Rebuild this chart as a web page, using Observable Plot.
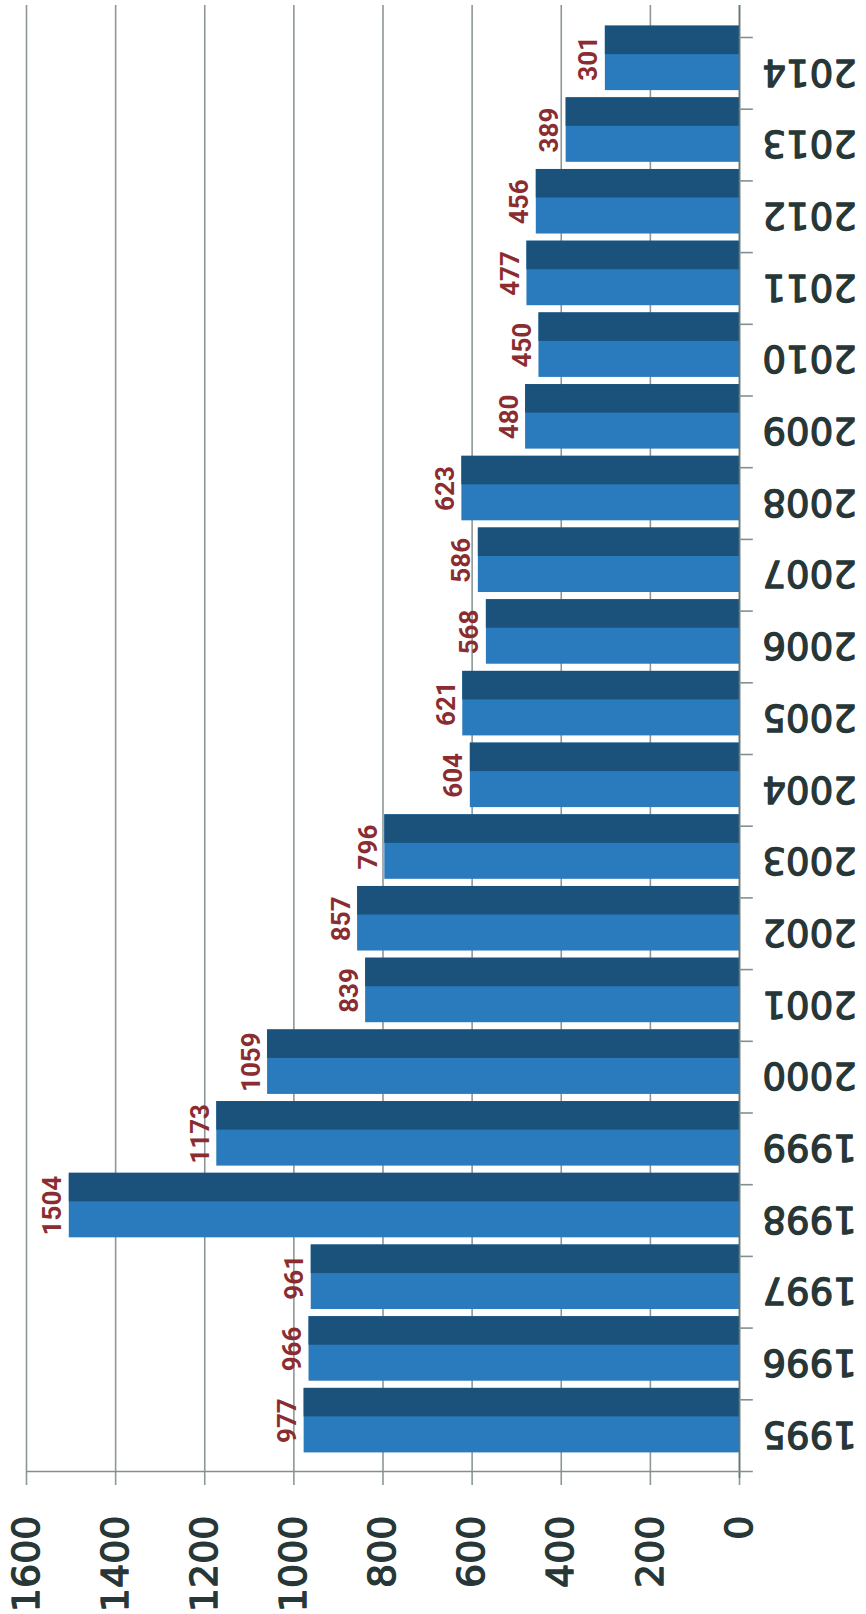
<!DOCTYPE html>
<html>
<head>
<meta charset="utf-8">
<script src="https://cdn.jsdelivr.net/npm/d3@7"></script>
<script src="https://cdn.jsdelivr.net/npm/@observablehq/plot@0.6"></script>
<style>
  html, body { margin: 0; padding: 0; background: #ffffff; }
  #chart svg { display: block; }
</style>
</head>
<body>
<div id="chart"></div>
<script>
const years = [1995, 1996, 1997, 1998, 1999, 2000, 2001, 2002, 2003, 2004, 2005, 2006, 2007, 2008, 2009, 2010, 2011, 2012, 2013, 2014];
const values = [977, 966, 961, 1504, 1173, 1059, 839, 857, 796, 604, 621, 568, 586, 623, 480, 450, 477, 456, 389, 301];
const valueTicks = [0, 200, 400, 600, 800, 1000, 1200, 1400, 1600];

const data = years.map((year, i) => ({year, value: values[i]}));
const yDomain = years.slice().reverse();

const W = 866, H = 1614;
const marginTop = 22, marginBottom = 158, marginLeft = 26, marginRight = 127;
const step = (H - marginTop - marginBottom) / (yDomain.length - 0.1 + 0.1);
const shift = 15;
const ink = "#273636";

const chart = Plot.plot({
  width: W,
  height: H,
  marginTop, marginBottom, marginLeft, marginRight,
  style: {background: "#ffffff"},
  x: {domain: [0, 1600], reverse: true, axis: null},
  y: {type: "band", domain: yDomain, paddingInner: 0.1, paddingOuter: 0.05, round: false, axis: null},
  marks: [
    // gridlines
    Plot.ruleX(valueTicks, {x: d => d, stroke: "#8d9797", strokeWidth: 1.6, insetTop: -17, insetBottom: -29}),
    // bars: light lower part, dark upper part
    Plot.barX(data, {y: "year", x: "value", fill: "#2a7bbd"}),
    Plot.barX(data, {y: "year", x: "value", fill: "#1b527b", insetBottom: 36}),
    // category axis line (right)
    Plot.ruleX([0], {x: d => d, stroke: "#667575", strokeWidth: 1.6, insetTop: -17, insetBottom: -22}),
    // value axis line (bottom)
    Plot.ruleY([years[0]], {y: d => d, x1: 1600, x2: -31, dy: step / 2 + shift, stroke: "#7f9191", strokeWidth: 1.6}),
    // category ticks
    Plot.ruleY(data, {y: "year", x1: 0, x2: -31, dy: shift - step / 2, stroke: "#7f9191", strokeWidth: 1.6}),
    // year labels (upside down)
    Plot.text(data, {
      y: "year", text: d => String(d.year), frameAnchor: "right", dx: 23, dy: 13,
      rotate: 180, textAnchor: "end", lineAnchor: "middle",
      fontSize: 37, fontFamily: "DejaVu Sans", fill: ink, stroke: ink, strokeWidth: 1.3
    }),
    // value tick labels
    Plot.text(valueTicks, {
      x: d => d, text: d => String(d), frameAnchor: "bottom", dy: 59,
      rotate: -90, textAnchor: "end", lineAnchor: "middle",
      fontSize: 38, fontFamily: "DejaVu Sans", fill: ink, stroke: ink, strokeWidth: 1.3
    }),
    // data labels
    Plot.text(data, {
      x: "value", y: "year", text: d => String(d.value), dx: -8,
      rotate: -90, textAnchor: "middle", lineAnchor: "bottom",
      fontSize: 26, fontWeight: "bold", fontFamily: "Roboto", fill: "#8a2c30"
    })
  ]
});

document.getElementById("chart").appendChild(chart);
</script>
</body>
</html>
